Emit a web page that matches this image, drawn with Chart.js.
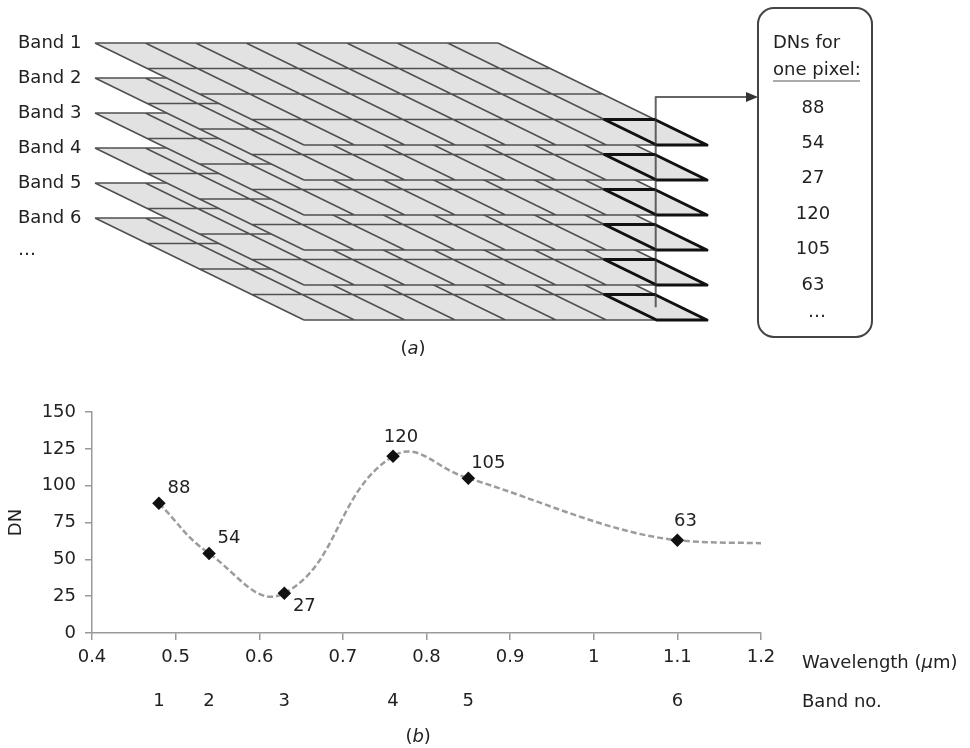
<!DOCTYPE html>
<html>
<head>
<meta charset="utf-8">
<title>DNs of one pixel across bands</title>
<script src="https://cdn.jsdelivr.net/npm/chart.js@4.4.0/dist/chart.umd.min.js"></script>
<style>
  body { margin: 0; background: #fff; }
  #wrap { position: relative; width: 970px; height: 748px; }
  canvas { position: absolute; left: 0; }
  #stack-chart { top: 0; }
  #dn-chart { top: 370px; }
</style>
</head>
<body>
<div id="wrap">
  <canvas id="stack-chart" width="970" height="370"></canvas>
  <canvas id="dn-chart" width="970" height="378"></canvas>
</div>
<script>
// Values
const bandNames = ["Band 1", "Band 2", "Band 3", "Band 4", "Band 5", "Band 6"];
const bandNo = [1, 2, 3, 4, 5, 6];
const bandWavelength = [0.48, 0.54, 0.63, 0.76, 0.85, 1.1];
const bandDN = [88, 54, 27, 120, 105, 63];
// the dashed curve runs on to the end of the axis
const curveEndWavelength = 1.2;
const curveEndDN = 61;
const dnTicks = [0, 25, 50, 75, 100, 125, 150];

const FONT = "DejaVu Sans";
const TEXT = "#222";

// draw text made of plain / italic parts, e.g. "(" + italic "a" + ")"
function drawParts(ctx, parts, x, y, align) {
  let total = 0;
  parts.forEach(p => {
    ctx.font = (p.italic ? "italic " : "") + "18px '" + FONT + "'";
    total += ctx.measureText(p.text).width;
  });
  let cx = align === "center" ? x - total / 2 : x;
  ctx.textAlign = "left";
  ctx.textBaseline = "middle";
  parts.forEach(p => {
    ctx.font = (p.italic ? "italic " : "") + "18px '" + FONT + "'";
    ctx.fillText(p.text, cx, y);
    cx += ctx.measureText(p.text).width;
  });
}

// ---------- (a) stack of band layers ----------
const stack = { left: 95, top: 43, gap: 35, width: 403, skew: 209, depth: 102, cols: 8, rows: 4 };
const dnBox = { left: 758, top: 8, right: 872, bottom: 337, radius: 16 };
const arrowY = 97;

function layerPoint(k, c, r) {
  const x = stack.left + c / stack.cols * stack.width + r / stack.rows * stack.skew;
  const y = stack.top + k * stack.gap + r / stack.rows * stack.depth;
  return [x, y];
}

const stackPlugin = {
  id: "bandStack",
  afterDraw(chart) {
    const ctx = chart.ctx;
    const sx = chart.scales.x, sy = chart.scales.y;
    const P = (k, c, r) => {
      const p = layerPoint(k, c, r);
      return [sx.getPixelForValue(p[0]), sy.getPixelForValue(p[1])];
    };
    const poly = pts => {
      ctx.beginPath();
      ctx.moveTo(pts[0][0], pts[0][1]);
      pts.slice(1).forEach(p => ctx.lineTo(p[0], p[1]));
      ctx.closePath();
    };
    const n = bandNames.length;
    ctx.save();
    ctx.lineJoin = "round";

    // bottom layer first, so each band covers the one under it
    for (let k = n - 1; k >= 0; k--) {
      poly([P(k, 0, 0), P(k, stack.cols, 0), P(k, stack.cols, stack.rows), P(k, 0, stack.rows)]);
      ctx.fillStyle = "#e2e2e2";
      ctx.fill();

      ctx.strokeStyle = "#505050";
      ctx.lineWidth = 1.6;
      ctx.beginPath();
      for (let r = 0; r <= stack.rows; r++) {
        const a = P(k, 0, r), b = P(k, stack.cols, r);
        ctx.moveTo(a[0], a[1]); ctx.lineTo(b[0], b[1]);
      }
      for (let c = 0; c <= stack.cols; c++) {
        const a = P(k, c, 0), b = P(k, c, stack.rows);
        ctx.moveTo(a[0], a[1]); ctx.lineTo(b[0], b[1]);
      }
      ctx.stroke();

      // highlighted pixel
      ctx.strokeStyle = "#111";
      ctx.lineWidth = 3;
      poly([P(k, stack.cols - 1, stack.rows - 1), P(k, stack.cols, stack.rows - 1),
            P(k, stack.cols, stack.rows), P(k, stack.cols - 1, stack.rows)]);
      ctx.stroke();
    }

    // line through the same pixel of every band, arrow to the box
    const top = P(0, stack.cols - 0.5, stack.rows - 0.5);
    const bot = P(n - 1, stack.cols - 0.5, stack.rows - 0.5);
    const ay = sy.getPixelForValue(arrowY);
    const bx = sx.getPixelForValue(dnBox.left);
    ctx.strokeStyle = "rgba(50,50,50,0.75)";
    ctx.lineWidth = 2;
    ctx.beginPath();
    ctx.moveTo(top[0], bot[1]);
    ctx.lineTo(top[0], ay);
    ctx.lineTo(bx - 8, ay);
    ctx.stroke();
    ctx.fillStyle = "#333";
    ctx.beginPath();
    ctx.moveTo(bx, ay);
    ctx.lineTo(bx - 12, ay - 5);
    ctx.lineTo(bx - 12, ay + 5);
    ctx.closePath();
    ctx.fill();

    // band labels
    ctx.fillStyle = TEXT;
    ctx.font = "18px '" + FONT + "'";
    ctx.textAlign = "left";
    ctx.textBaseline = "middle";
    bandNames.forEach((name, k) => {
      ctx.fillText(name, 18, sy.getPixelForValue(stack.top + k * stack.gap));
    });
    ctx.fillText("\u2026", 18, sy.getPixelForValue(stack.top + n * stack.gap) - 3);

    // DN box
    const L = sx.getPixelForValue(dnBox.left), R = sx.getPixelForValue(dnBox.right);
    const T = sy.getPixelForValue(dnBox.top), B = sy.getPixelForValue(dnBox.bottom);
    const rad = dnBox.radius;
    ctx.strokeStyle = "#444";
    ctx.lineWidth = 2;
    ctx.beginPath();
    ctx.moveTo(L + rad, T);
    ctx.arcTo(R, T, R, B, rad);
    ctx.arcTo(R, B, L, B, rad);
    ctx.arcTo(L, B, L, T, rad);
    ctx.arcTo(L, T, R, T, rad);
    ctx.closePath();
    ctx.stroke();

    ctx.fillStyle = TEXT;
    ctx.fillText("DNs for", L + 15, T + 35);
    ctx.fillText("one pixel:", L + 15, T + 62);
    ctx.strokeStyle = "#aaa";
    ctx.lineWidth = 2;
    ctx.beginPath();
    ctx.moveTo(L + 15, T + 73);
    ctx.lineTo(L + 102, T + 73);
    ctx.stroke();
    ctx.textAlign = "center";
    bandDN.forEach((v, k) => {
      ctx.fillText(String(v), (L + R) / 2 - 2, T + 100 + k * 35.4);
    });
    ctx.fillText("\u2026", (L + R) / 2 + 2, T + 304);

    ctx.fillStyle = TEXT;
    drawParts(ctx, [{ text: "(" }, { text: "a", italic: true }, { text: ")" }], 413, sy.getPixelForValue(349), "center");
    ctx.restore();
  }
};

new Chart(document.getElementById("stack-chart"), {
  type: "scatter",
  data: { datasets: [] },
  options: {
    responsive: false,
    animation: false,
    layout: { padding: 0 },
    plugins: { legend: { display: false }, tooltip: { enabled: false } },
    scales: {
      x: { type: "linear", display: false, min: 0, max: 970 },
      y: { type: "linear", display: false, min: 0, max: 370, reverse: true }
    }
  },
  plugins: [stackPlugin]
});

// ---------- (b) DN against wavelength ----------
const labelSide = ["ne", "ne", "se", "n", "ne", "n"];
const sideOffset = { ne: [20, -15], se: [20, 13], n: [8, -19] };

const dnLabels = {
  id: "dnLabels",
  afterDatasetsDraw(chart) {
    const ctx = chart.ctx;
    const meta = chart.getDatasetMeta(0);
    ctx.save();
    ctx.fillStyle = TEXT;
    ctx.font = "18px '" + FONT + "'";
    ctx.textAlign = "center";
    ctx.textBaseline = "middle";
    bandDN.forEach((v, i) => {
      const pt = meta.data[i];
      const off = sideOffset[labelSide[i]];
      ctx.fillText(String(v), pt.x + off[0], pt.y + off[1]);
    });
    ctx.restore();
  },
  afterDraw(chart) {
    const ctx = chart.ctx;
    const area = chart.chartArea;
    const xs = chart.scales.x;
    ctx.save();
    ctx.fillStyle = TEXT;
    drawParts(ctx, [{ text: "Wavelength (" }, { text: "\u03bc", italic: true }, { text: "m)" }],
      area.right + 41, area.bottom + 30, "left");
    drawParts(ctx, [{ text: "Band no." }], area.right + 41, area.bottom + 69, "left");
    drawParts(ctx, [{ text: "(" }, { text: "b", italic: true }, { text: ")" }],
      xs.getPixelForValue(0.79), area.bottom + 104, "center");
    ctx.restore();
  }
};

const tickFont = { family: FONT, size: 18 };
const curveStyle = {
  showLine: true,
  borderColor: "#9c9c9c",
  borderWidth: 2.5,
  borderDash: [6, 3],
  pointStyle: "rectRot",
  pointBackgroundColor: "#111",
  pointBorderColor: "#111"
};
// bands 1-5 as a loose spline, bands 5-6 and the tail as a monotone run
const split = 4;
const points = bandWavelength.map((x, i) => ({ x: x, y: bandDN[i] }));

new Chart(document.getElementById("dn-chart"), {
  type: "scatter",
  data: {
    datasets: [
      Object.assign({
        data: points,
        showLine: false,
        pointRadius: 5,
        order: 0
      }, curveStyle, { showLine: false }),
      Object.assign({
        data: points.slice(0, split + 1),
        tension: 0.45,
        pointRadius: 0,
        order: 1
      }, curveStyle),
      Object.assign({
        data: points.slice(split).concat([{ x: curveEndWavelength, y: curveEndDN }]),
        cubicInterpolationMode: "monotone",
        pointRadius: 0,
        order: 1
      }, curveStyle)
    ]
  },
  options: {
    responsive: false,
    animation: false,
    layout: { padding: { left: 0, right: 209, top: 42, bottom: 30 } },
    plugins: { legend: { display: false }, tooltip: { enabled: false } },
    scales: {
      x: {
        type: "linear",
        position: "bottom",
        weight: 0,
        min: 0.4,
        max: 1.2,
        ticks: {
          stepSize: 0.1,
          font: tickFont,
          color: TEXT,
          padding: 7,
          callback: v => String(+v.toFixed(1))
        },
        grid: { drawOnChartArea: false, tickLength: 7, color: "#999", lineWidth: 1.5 },
        border: { color: "#999", width: 1.5 },
        afterFit: s => { s.height = 40; }
      },
      band: {
        type: "linear",
        position: "bottom",
        weight: 1,
        min: 0.4,
        max: 1.2,
        afterBuildTicks: s => { s.ticks = bandWavelength.map(v => ({ value: v })); },
        ticks: {
          autoSkip: false,
          maxRotation: 0,
          font: tickFont,
          color: TEXT,
          padding: 18,
          callback: (v, i) => String(bandNo[i])
        },
        grid: { display: false, drawTicks: false },
        border: { display: false },
        afterFit: s => { s.height = 45; }
      },
      y: {
        type: "linear",
        min: dnTicks[0],
        max: dnTicks[dnTicks.length - 1],
        afterBuildTicks: s => { s.ticks = dnTicks.map(v => ({ value: v })); },
        ticks: { font: tickFont, color: TEXT, padding: 9 },
        grid: { drawOnChartArea: false, tickLength: 7, color: "#999", lineWidth: 1.5 },
        border: { color: "#999", width: 1.5 },
        title: { display: true, text: "DN", font: tickFont, color: TEXT, padding: { top: 6, bottom: 0 } },
        afterFit: s => { s.width = 92; }
      }
    }
  },
  plugins: [dnLabels]
});
</script>
</body>
</html>
